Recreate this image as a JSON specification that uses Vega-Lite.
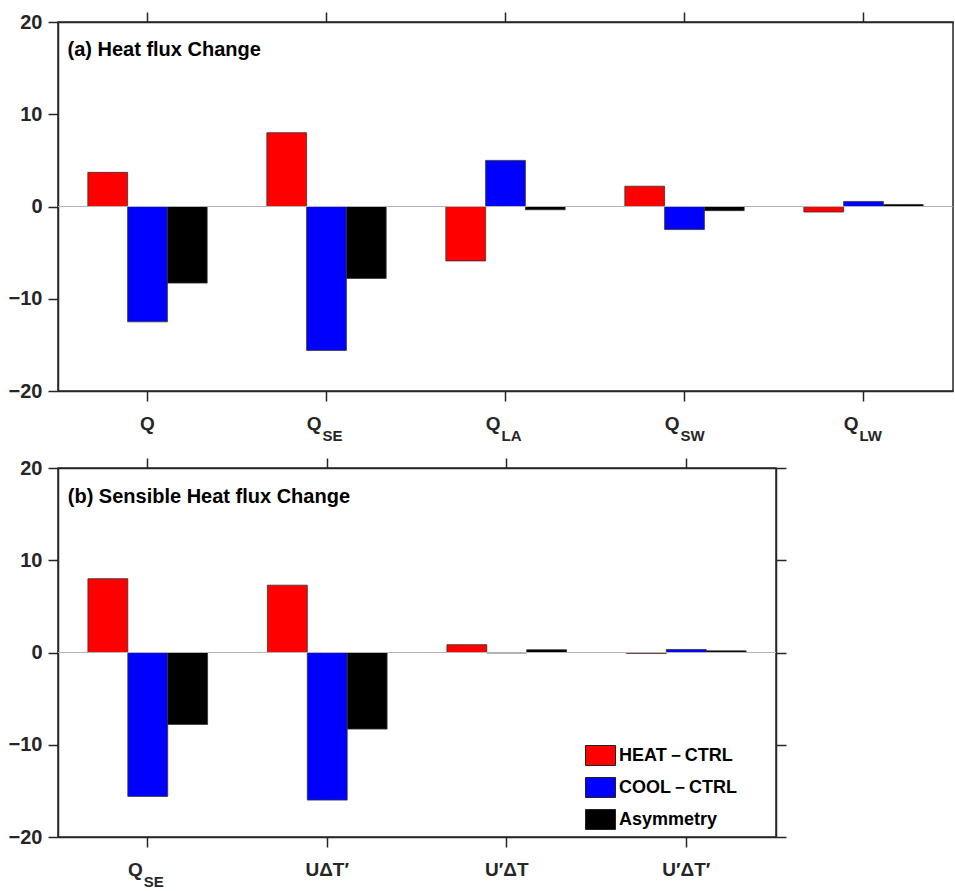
{
  "$schema": "https://vega.github.io/schema/vega-lite/v6.json",
  "autosize": {"type": "pad"},
  "padding": {"left": 7, "top": 10, "right": 0, "bottom": 0},
  "background": "white",
  "config": {
    "font": "Liberation Sans",
    "view": {"stroke": "#262626", "strokeWidth": 1.5},
    "axis": {
      "domainColor": "#262626", "domainWidth": 1.5,
      "tickColor": "#262626", "tickWidth": 1.5, "tickSize": 10,
      "grid": false, "labelFont": "Liberation Sans", "labelFontWeight": "bold",
      "labelFontSize": 20, "labelColor": "#262626", "labelPadding": 6, "title": null
    }
  },
  "datasets": {
    "barsA": [
      {"cat": "Q", "series": "HEAT－CTRL", "value": 3.7},
      {"cat": "Q", "series": "COOL－CTRL", "value": -12.5},
      {"cat": "Q", "series": "Asymmetry", "value": -8.3},
      {"cat": "QSE", "series": "HEAT－CTRL", "value": 8.0},
      {"cat": "QSE", "series": "COOL－CTRL", "value": -15.6},
      {"cat": "QSE", "series": "Asymmetry", "value": -7.8},
      {"cat": "QLA", "series": "HEAT－CTRL", "value": -5.9},
      {"cat": "QLA", "series": "COOL－CTRL", "value": 5.0},
      {"cat": "QLA", "series": "Asymmetry", "value": -0.35},
      {"cat": "QSW", "series": "HEAT－CTRL", "value": 2.2},
      {"cat": "QSW", "series": "COOL－CTRL", "value": -2.5},
      {"cat": "QSW", "series": "Asymmetry", "value": -0.45},
      {"cat": "QLW", "series": "HEAT－CTRL", "value": -0.6},
      {"cat": "QLW", "series": "COOL－CTRL", "value": 0.55},
      {"cat": "QLW", "series": "Asymmetry", "value": 0.22}
    ],
    "labA": [
      {"cat": "Q", "main": "Q", "sub": ""},
      {"cat": "QSE", "main": "Q", "sub": "SE"},
      {"cat": "QLA", "main": "Q", "sub": "LA"},
      {"cat": "QSW", "main": "Q", "sub": "SW"},
      {"cat": "QLW", "main": "Q", "sub": "LW"}
    ],
    "titleA": [{"cat": "Q", "t": "(a) Heat flux Change"}],
    "barsB": [
      {"cat": "QSE", "series": "HEAT－CTRL", "value": 8.0},
      {"cat": "QSE", "series": "COOL－CTRL", "value": -15.6},
      {"cat": "QSE", "series": "Asymmetry", "value": -7.8},
      {"cat": "UdTp", "series": "HEAT－CTRL", "value": 7.3},
      {"cat": "UdTp", "series": "COOL－CTRL", "value": -16.0},
      {"cat": "UdTp", "series": "Asymmetry", "value": -8.3},
      {"cat": "UpdT", "series": "HEAT－CTRL", "value": 0.85},
      {"cat": "UpdT", "series": "COOL－CTRL", "value": -0.05},
      {"cat": "UpdT", "series": "Asymmetry", "value": 0.3},
      {"cat": "UpdTp", "series": "HEAT－CTRL", "value": -0.1},
      {"cat": "UpdTp", "series": "COOL－CTRL", "value": 0.33},
      {"cat": "UpdTp", "series": "Asymmetry", "value": 0.18}
    ],
    "labB": [
      {"cat": "QSE", "main": "Q", "sub": "SE"},
      {"cat": "UdTp", "main": "UΔT′", "sub": ""},
      {"cat": "UpdT", "main": "U′ΔT", "sub": ""},
      {"cat": "UpdTp", "main": "U′ΔT′", "sub": ""}
    ],
    "titleB": [{"cat": "QSE", "t": "(b) Sensible Heat flux Change"}]
  },
  "resolve": {"scale": {"x": "independent", "y": "independent", "xOffset": "independent", "color": "independent"}},
  "spacing": 11,
  "vconcat": [
    {
      "width": 895,
      "height": 369,
      "resolve": {"axis": {"x": "independent", "y": "independent"}},
      "layer": [
        {
          "data": {"name": "barsA"},
          "mark": {"type": "bar", "stroke": "#333333", "strokeWidth": 0.8},
          "encoding": {
            "x": {"field": "cat", "type": "nominal", "sort": null,
                  "scale": {"domain": ["Q", "QSE", "QLA", "QSW", "QLW"], "paddingInner": 0, "paddingOuter": 0},
                  "axis": {"orient": "bottom", "labels": false}},
            "xOffset": {"field": "series", "type": "nominal", "sort": null,
                  "scale": {"domain": ["HEAT－CTRL", "COOL－CTRL", "Asymmetry"], "paddingInner": 0, "paddingOuter": 0.75}},
            "y": {"field": "value", "type": "quantitative",
                  "scale": {"domain": [-20, 20], "nice": false, "zero": false},
                  "axis": {"orient": "left", "values": [-20, -10, 0, 10, 20]}},
            "color": {"field": "series", "type": "nominal", "sort": null,
                  "scale": {"domain": ["HEAT－CTRL", "COOL－CTRL", "Asymmetry"], "range": ["#ff0000", "#0000ff", "#000000"]},
                  "legend": null}
          }
        },
        {
          "data": {"values": [{}]},
          "mark": {"type": "rule", "color": "#b4b4b4", "strokeWidth": 1},
          "encoding": {"y": {"datum": 0, "type": "quantitative", "axis": null}}
        },
        {
          "data": {"name": "labA"},
          "transform": [{"filter": "datum.sub == ''"}],
          "mark": {"type": "text", "font": "Liberation Sans", "fontWeight": "bold", "fontSize": 19, "color": "#262626", "baseline": "alphabetic", "align": "center", "dy": 39},
          "encoding": {
            "x": {"field": "cat", "type": "nominal", "sort": null,
                  "scale": {"domain": ["Q", "QSE", "QLA", "QSW", "QLW"]},
                  "axis": {"orient": "top", "labels": false}},
            "y": {"datum": -20, "type": "quantitative", "axis": null},
            "text": {"field": "main", "type": "nominal"}
          }
        },
        {
          "data": {"name": "labA"},
          "transform": [{"filter": "datum.sub != ''"}],
          "mark": {"type": "text", "font": "Liberation Sans", "fontWeight": "bold", "fontSize": 19, "color": "#262626", "baseline": "alphabetic", "align": "right", "dx": -5, "dy": 39},
          "encoding": {
            "x": {"field": "cat", "type": "nominal", "sort": null, "scale": {"domain": ["Q", "QSE", "QLA", "QSW", "QLW"]}, "axis": null},
            "y": {"datum": -20, "type": "quantitative", "axis": null},
            "text": {"field": "main", "type": "nominal"}
          }
        },
        {
          "data": {"name": "labA"},
          "transform": [{"filter": "datum.sub != ''"}],
          "mark": {"type": "text", "font": "Liberation Sans", "fontWeight": "bold", "fontSize": 15, "color": "#262626", "baseline": "alphabetic", "align": "left", "dx": -4, "dy": 50},
          "encoding": {
            "x": {"field": "cat", "type": "nominal", "sort": null, "scale": {"domain": ["Q", "QSE", "QLA", "QSW", "QLW"]}, "axis": null},
            "y": {"datum": -20, "type": "quantitative", "axis": null},
            "text": {"field": "sub", "type": "nominal"}
          }
        },
        {
          "data": {"name": "titleA"},
          "mark": {"type": "text", "font": "Liberation Sans", "fontWeight": "bold", "fontSize": 20, "color": "#000000", "baseline": "alphabetic", "align": "left", "dx": -80, "dy": 34},
          "encoding": {
            "x": {"field": "cat", "type": "nominal", "sort": null, "scale": {"domain": ["Q", "QSE", "QLA", "QSW", "QLW"]}, "axis": null},
            "y": {"datum": 20, "type": "quantitative", "axis": null},
            "text": {"field": "t", "type": "nominal"}
          }
        }
      ]
    },
    {
      "width": 718,
      "height": 369,
      "resolve": {"axis": {"x": "independent", "y": "independent"}},
      "layer": [
        {
          "data": {"name": "barsB"},
          "mark": {"type": "bar", "stroke": "#333333", "strokeWidth": 0.8},
          "encoding": {
            "x": {"field": "cat", "type": "nominal", "sort": null,
                  "scale": {"domain": ["QSE", "UdTp", "UpdT", "UpdTp"], "paddingInner": 0, "paddingOuter": 0},
                  "axis": {"orient": "bottom", "labels": false}},
            "xOffset": {"field": "series", "type": "nominal", "sort": null,
                  "scale": {"domain": ["HEAT－CTRL", "COOL－CTRL", "Asymmetry"], "paddingInner": 0, "paddingOuter": 0.75}},
            "y": {"field": "value", "type": "quantitative",
                  "scale": {"domain": [-20, 20], "nice": false, "zero": false},
                  "axis": {"orient": "left", "values": [-20, -10, 0, 10, 20]}},
            "color": {"field": "series", "type": "nominal", "sort": null,
                  "scale": {"domain": ["HEAT－CTRL", "COOL－CTRL", "Asymmetry"], "range": ["#ff0000", "#0000ff", "#000000"]},
                  "legend": {
                    "orient": "none", "legendX": 532, "legendY": 277, "title": null, "padding": 0,
                    "symbolType": "M-1.5,-1H1.5V1H-1.5Z", "symbolSize": 400,
                    "symbolStrokeColor": "#222222", "symbolStrokeWidth": 1, "symbolOpacity": 1,
                    "labelFont": "Liberation Sans", "labelFontSize": 18, "labelFontWeight": "bold",
                    "labelColor": "#000000", "labelOffset": 8, "rowPadding": 7
                  }}
          }
        },
        {
          "data": {"values": [{}]},
          "mark": {"type": "rule", "color": "#b4b4b4", "strokeWidth": 1},
          "encoding": {"y": {"datum": 0, "type": "quantitative",
            "axis": {"orient": "right", "labels": false, "values": [-20, -10, 0, 10, 20]}}}
        },
        {
          "data": {"name": "labB"},
          "transform": [{"filter": "datum.sub == ''"}],
          "mark": {"type": "text", "font": "Liberation Sans", "fontWeight": "bold", "fontSize": 19, "color": "#262626", "baseline": "alphabetic", "align": "center", "dy": 39},
          "encoding": {
            "x": {"field": "cat", "type": "nominal", "sort": null,
                  "scale": {"domain": ["QSE", "UdTp", "UpdT", "UpdTp"]},
                  "axis": {"orient": "top", "labels": false}},
            "y": {"datum": -20, "type": "quantitative", "axis": null},
            "text": {"field": "main", "type": "nominal"}
          }
        },
        {
          "data": {"name": "labB"},
          "transform": [{"filter": "datum.sub != ''"}],
          "mark": {"type": "text", "font": "Liberation Sans", "fontWeight": "bold", "fontSize": 19, "color": "#262626", "baseline": "alphabetic", "align": "right", "dx": -5, "dy": 39},
          "encoding": {
            "x": {"field": "cat", "type": "nominal", "sort": null, "scale": {"domain": ["QSE", "UdTp", "UpdT", "UpdTp"]}, "axis": null},
            "y": {"datum": -20, "type": "quantitative", "axis": null},
            "text": {"field": "main", "type": "nominal"}
          }
        },
        {
          "data": {"name": "labB"},
          "transform": [{"filter": "datum.sub != ''"}],
          "mark": {"type": "text", "font": "Liberation Sans", "fontWeight": "bold", "fontSize": 15, "color": "#262626", "baseline": "alphabetic", "align": "left", "dx": -4, "dy": 50},
          "encoding": {
            "x": {"field": "cat", "type": "nominal", "sort": null, "scale": {"domain": ["QSE", "UdTp", "UpdT", "UpdTp"]}, "axis": null},
            "y": {"datum": -20, "type": "quantitative", "axis": null},
            "text": {"field": "sub", "type": "nominal"}
          }
        },
        {
          "data": {"name": "titleB"},
          "mark": {"type": "text", "font": "Liberation Sans", "fontWeight": "bold", "fontSize": 20, "color": "#000000", "baseline": "alphabetic", "align": "left", "dx": -80, "dy": 35},
          "encoding": {
            "x": {"field": "cat", "type": "nominal", "sort": null, "scale": {"domain": ["QSE", "UdTp", "UpdT", "UpdTp"]}, "axis": null},
            "y": {"datum": 20, "type": "quantitative", "axis": null},
            "text": {"field": "t", "type": "nominal"}
          }
        }
      ]
    }
  ]
}
